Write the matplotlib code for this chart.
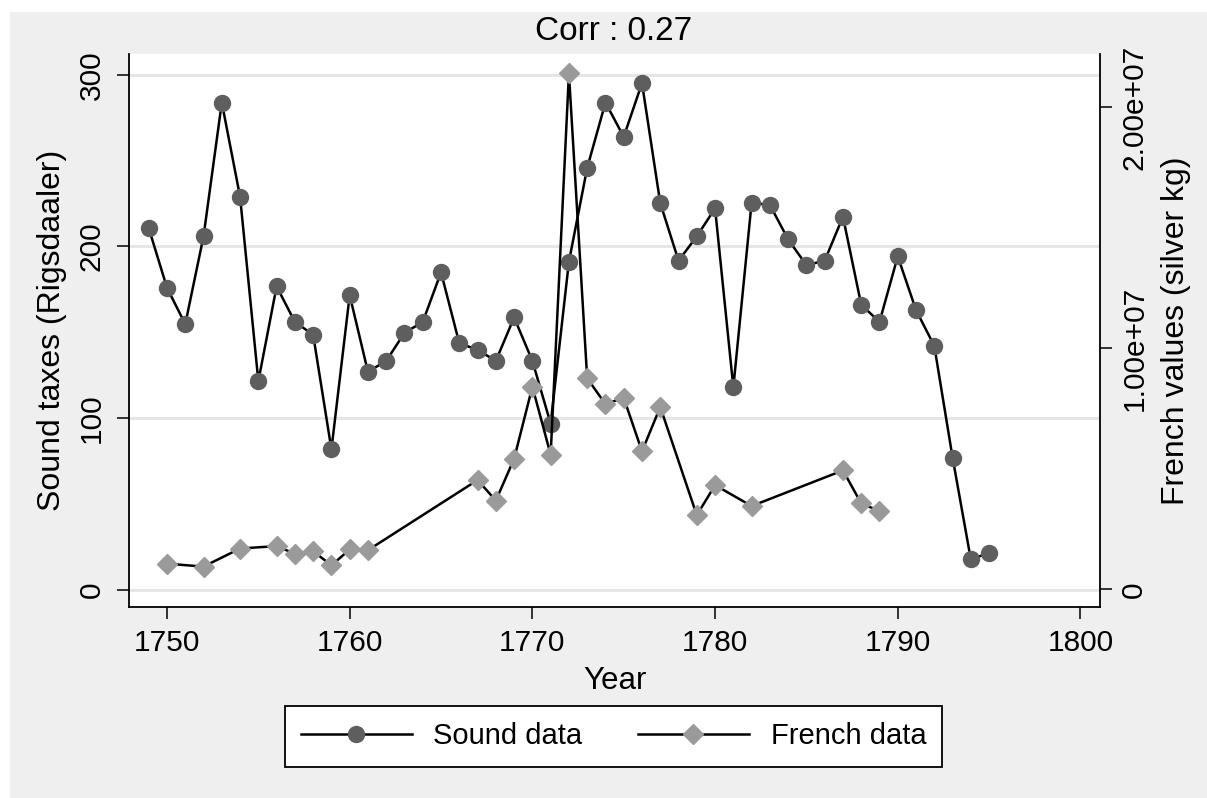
import matplotlib
matplotlib.use("Agg")
import matplotlib.pyplot as plt
from matplotlib.patches import Rectangle

# ---------------- data ----------------
sound_years = [1749, 1750, 1751, 1752, 1753, 1754, 1755, 1756, 1757, 1758,
               1759, 1760, 1761, 1762, 1763, 1764, 1765, 1766, 1767, 1768,
               1769, 1770, 1771, 1772, 1773, 1774, 1775, 1776, 1777, 1778,
               1779, 1780, 1781, 1782, 1783, 1784, 1785, 1786, 1787, 1788,
               1789, 1790, 1791, 1792, 1793, 1794, 1795]
sound_values = [210.7, 175.9, 154.7, 205.9, 283.9, 229.0, 121.5, 176.7, 156.0, 148.5,
                81.7, 171.6, 126.9, 133.3, 149.6, 156.0, 184.9, 143.6, 139.7, 133.3,
                158.6, 133.3, 96.7, 191.1, 245.8, 283.9, 263.9, 295.2, 225.3, 191.7,
                205.9, 222.2, 117.8, 225.5, 224.2, 204.1, 189.1, 191.7, 217.3, 166.0,
                156.0, 194.2, 162.9, 142.0, 76.9, 17.5, 21.4]

french_years = [1750, 1752, 1754, 1756, 1757, 1758, 1759, 1760, 1761, 1767,
                1768, 1769, 1770, 1771, 1772, 1773, 1774, 1775, 1776, 1777,
                1779, 1780, 1782, 1787, 1788, 1789]
french_values = [1.07e6, 0.95e6, 1.70e6, 1.80e6, 1.48e6, 1.59e6, 1.00e6, 1.66e6, 1.63e6, 4.54e6,
                 3.69e6, 5.42e6, 8.41e6, 5.59e6, 21.41e6, 8.76e6, 7.69e6, 7.95e6, 5.73e6, 7.57e6,
                 3.08e6, 4.33e6, 3.46e6, 4.94e6, 3.57e6, 3.25e6]

x_ticks = [1750, 1760, 1770, 1780, 1790, 1800]
left_ticks = [0, 100, 200, 300]
right_ticks = [0, 1e7, 2e7]
right_tick_labels = ["0", "1.00e+07", "2.00e+07"]

title_text = "Corr : 0.27"
x_label = "Year"
left_label = "Sound taxes (Rigsdaaler)"
right_label = "French values (silver kg)"
legend_labels = ["Sound data", "French data"]

# ---------------- style ----------------
plt.rcParams['font.family'] = ['Liberation Sans', 'DejaVu Sans']
W, H = 1207, 798
fig = plt.figure(figsize=(W / 100, H / 100), dpi=100, facecolor='white')
bg = '#efefef'
fig.patches.append(Rectangle((10 / W, 0), 1 - 10 / W, 1 - 12 / H,
                             transform=fig.transFigure, facecolor=bg,
                             edgecolor='none', zorder=-10))

left, right, top, bottom = 129, 1100, 54, 607
ax = fig.add_axes([left / W, 1 - bottom / H, (right - left) / W, (bottom - top) / H])
ax.set_facecolor('white')
ax2 = ax.twinx()
ax2.patch.set_visible(False)

circ_color = '#5e5e5e'
dia_color = '#9a9a9a'
lw = 1.8

ax.plot(sound_years, sound_values, color='black', lw=lw, marker='o', ms=11.5,
        mfc=circ_color, mec=circ_color, label=legend_labels[0], zorder=3)
ax2.plot(french_years, french_values, color='black', lw=lw, marker='D', ms=10.5,
         mfc=dia_color, mec=dia_color, label=legend_labels[1], zorder=3)

ax.set_xlim(1747.92, 1801.07)
ax.set_ylim(-10.2, 312.2)
ax2.set_ylim(-0.0726e7, 2.221e7)

ax.set_xticks(x_ticks)
ax.set_yticks(left_ticks)
ax2.set_yticks(right_ticks)
ax2.set_yticklabels(right_tick_labels)

ax.yaxis.grid(True, color='#e6e6e6', lw=2.2)
ax.set_axisbelow(True)

for s in ['top', 'right']:
    ax.spines[s].set_visible(False)
for s in ['top', 'left', 'bottom']:
    ax2.spines[s].set_visible(False)
for s in ['left', 'bottom']:
    ax.spines[s].set_linewidth(1.3)
ax2.spines['right'].set_linewidth(1.3)

fs_tick = 21.5
fs_lab = 23
ax.tick_params(axis='x', length=8.6, width=1.1, pad=7, labelsize=fs_tick)
ax.tick_params(axis='y', length=8.6, width=1.1, pad=8, labelsize=fs_tick, labelrotation=90)
ax2.tick_params(axis='y', length=8.6, width=1.1, pad=6, labelsize=fs_tick, labelrotation=90)
for lab in ax.get_yticklabels() + ax2.get_yticklabels():
    lab.set_va('center')

ax.set_xlabel(x_label, fontsize=22.5, labelpad=7)
ax.set_ylabel(left_label, fontsize=fs_lab, labelpad=8)
ax2.set_ylabel(right_label, fontsize=fs_lab, labelpad=9, rotation=90)

fig.text(613.5 / W, 1 - 32 / H, title_text, ha='center', va='center', fontsize=24)

h1, l1 = ax.get_legend_handles_labels()
h2, l2 = ax2.get_legend_handles_labels()
leg = fig.legend(h1 + h2, l1 + l2, loc='center',
                 bbox_to_anchor=(613.5 / W, 1 - 736.5 / H), ncol=2,
                 fontsize=21, frameon=True, fancybox=False, edgecolor='black',
                 facecolor='white', framealpha=1, handlelength=3.8,
                 handletextpad=0.75, columnspacing=1.9, borderpad=0.55,
                 borderaxespad=0)
leg.get_frame().set_linewidth(1.3)

fig.savefig('out.png', dpi=100, facecolor=fig.get_facecolor())
